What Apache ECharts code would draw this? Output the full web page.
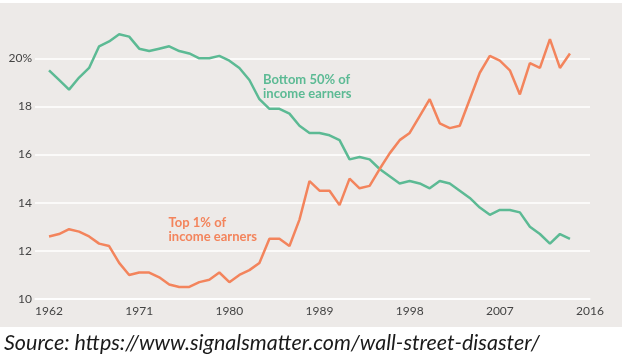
<!DOCTYPE html>
<html>
<head>
<meta charset="utf-8">
<script src="https://cdn.jsdelivr.net/npm/echarts@6/dist/echarts.min.js"></script>
<style>
html,body{margin:0;padding:0;background:#fff;}
#chart{width:624px;height:364px;}
</style>
</head>
<body>
<div id="chart"></div>
<script>
const years = [1962,1963,1964,1965,1966,1967,1968,1969,1970,1971,1972,1973,1974,1975,1976,1977,1978,1979,1980,1981,1982,1983,1984,1985,1986,1987,1988,1989,1990,1991,1992,1993,1994,1995,1996,1997,1998,1999,2000,2001,2002,2003,2004,2005,2006,2007,2008,2009,2010,2011,2012,2013,2014];
const bottom50 = [19.5,19.1,18.7,19.2,19.6,20.5,20.7,21.0,20.9,20.4,20.3,20.4,20.5,20.3,20.2,20.0,20.0,20.1,19.9,19.6,19.1,18.3,17.9,17.9,17.7,17.2,16.9,16.9,16.8,16.6,15.8,15.9,15.8,15.4,15.1,14.8,14.9,14.8,14.6,14.9,14.8,14.5,14.2,13.8,13.5,13.7,13.7,13.6,13.0,12.7,12.3,12.7,12.5];
const top1 = [12.6,12.7,12.9,12.8,12.6,12.3,12.2,11.5,11.0,11.1,11.1,10.9,10.6,10.5,10.5,10.7,10.8,11.1,10.7,11.0,11.2,11.5,12.5,12.5,12.2,13.3,14.9,14.5,14.5,13.9,15.0,14.6,14.7,15.4,16.05,16.6,16.9,17.6,18.3,17.3,17.1,17.2,18.3,19.4,20.1,19.9,19.5,18.5,19.8,19.6,20.8,19.6,20.2];
const xTickLabels = [1962,1971,1980,1989,1998,2007,2016];
const yTickLabels = [10,12,14,16,18,20];
const bottomLabel = ['Bottom 50% of','income earners'];
const topLabel = ['Top 1% of','income earners'];
const sourceText = 'Source: https://www.signalsmatter.com/wall-street-disaster/';

const GREEN = '#5cba94';
const ORANGE = '#f3845c';

const chart = echarts.init(document.getElementById('chart'), null, {renderer:'canvas'});
chart.setOption({
  backgroundColor: '#ffffff',
  animation: false,
  grid: {left: 35, right: 34, top: 58.3, bottom: 65},
  xAxis: {
    type: 'value', min: 1960.6, max: 2016,
    axisLine: {show: true, lineStyle: {color: '#ffffff', width: 1.5}},
    axisTick: {show: false},
    splitLine: {show: false},
    axisLabel: {
      customValues: xTickLabels,
      margin: 6,
      color: '#444', fontFamily: 'Lato', fontSize: 12,
      formatter: v => String(v)
    }
  },
  yAxis: {
    type: 'value', min: 10, max: 20, interval: 2,
    axisLine: {show: false},
    axisTick: {show: false},
    splitLine: {show: true, lineStyle: {color: '#ffffff', width: 1.5}},
    axisLabel: {
      customValues: yTickLabels,
      margin: 3,
      color: '#444', fontFamily: 'Lato', fontSize: 12,
      formatter: v => v === 20 ? '20%' : String(v)
    }
  },
  series: [
    {
      type: 'line', name: 'Bottom 50%', clip: false, symbol: 'none',
      lineStyle: {color: GREEN, width: 2.5}, itemStyle: {color: GREEN},
      data: years.map((y,i) => [y, bottom50[i]])
    },
    {
      type: 'line', name: 'Top 1%', clip: false, symbol: 'none',
      lineStyle: {color: ORANGE, width: 2.5}, itemStyle: {color: ORANGE},
      data: years.map((y,i) => [y, top1[i]])
    }
  ],
  graphic: [
    {type: 'rect', z: -100, silent: true, shape: {x: 0, y: 3, width: 622, height: 324}, style: {fill: '#edeae8'}},
    {type: 'text', z: 100, left: 263, top: 73, style: {text: bottomLabel.join('\n'), fill: GREEN, font: 'bold 13px Lato', lineHeight: 14, align: 'left'}},
    {type: 'text', z: 100, right: 624 - 257, top: 216, style: {text: topLabel.join('\n'), fill: ORANGE, font: 'bold 13px Lato', lineHeight: 14, align: 'right'}},
    {type: 'text', z: 100, left: 4, top: 332, style: {text: sourceText, fill: '#1a1a1a', font: 'italic 21.5px Lato'}}
  ]
});
</script>
</body>
</html>
